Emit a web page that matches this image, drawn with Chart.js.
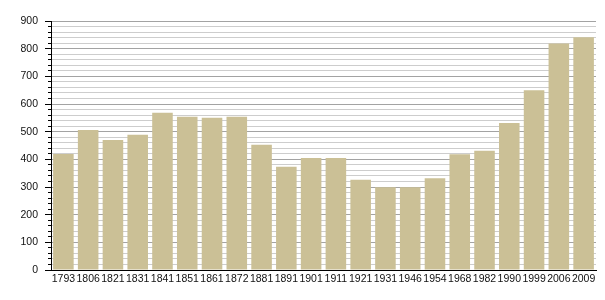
<!DOCTYPE html>
<html>
<head>
<meta charset="utf-8">
<script src="https://cdn.jsdelivr.net/npm/chart.js@4/dist/chart.umd.min.js"></script>
<style>
  html, body { margin: 0; padding: 0; background: #ffffff; }
  #wrap { width: 605px; height: 300px; position: relative; }
</style>
</head>
<body>
<div id="wrap"><canvas id="c" width="605" height="300"></canvas></div>
<script>
const years = ['1793','1806','1821','1831','1841','1851','1861','1872','1881','1891','1901','1911','1921','1931','1946','1954','1968','1982','1990','1999','2006','2009'];
const population = [419, 506, 470, 489, 568, 554, 550, 554, 453, 373, 405, 405, 326, 299, 299, 332, 418, 431, 531, 650, 819, 841];
const yMin = 0;
const yMax = 900;
const yMajorStep = 100;
const yMinorStep = 20;

const isMajor = (v) => v % yMajorStep === 0;

new Chart(document.getElementById('c'), {
  type: 'bar',
  data: {
    labels: years,
    datasets: [{
      data: population,
      backgroundColor: '#cbc096',
      borderWidth: 0,
      categoryPercentage: 1.0,
      barPercentage: 0.83
    }]
  },
  options: {
    responsive: false,
    animation: false,
    devicePixelRatio: 1,
    layout: { padding: { left: 0, right: 9, top: 21, bottom: 0 } },
    plugins: { legend: { display: false }, tooltip: { enabled: false }, title: { display: false } },
    scales: {
      x: {
        grid: { display: false, drawTicks: false },
        border: { display: true, color: '#000000', width: 1 },
        ticks: {
          color: '#111111',
          font: { family: '"Liberation Sans", Arial, sans-serif', size: 10.5 },
          padding: 3,
          maxRotation: 0,
          autoSkip: false
        },
        afterFit: (s) => { s.height = 30; }
      },
      y: {
        min: yMin,
        max: yMax,
        border: { display: true, color: '#000000', width: 1 },
        grid: {
          color: (ctx) => isMajor(ctx.tick.value) ? '#a3a3a3' : '#cdcdcd',
          lineWidth: 1,
          drawTicks: true,
          tickLength: 6,
          tickColor: '#000000',
          tickBorderDash: (ctx) => isMajor(ctx.tick.value) ? [] : [0, 3, 3]
        },
        ticks: {
          stepSize: yMinorStep,
          autoSkip: false,
          color: '#111111',
          font: { family: '"Liberation Sans", Arial, sans-serif', size: 10.5 },
          padding: 7,
          callback: (v) => isMajor(v) ? String(v) : ''
        },
        afterFit: (s) => { s.width = 51; }
      }
    }
  }
});
</script>
</body>
</html>
